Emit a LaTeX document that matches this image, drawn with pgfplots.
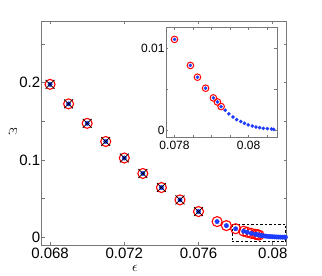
\documentclass[border=0pt]{standalone}
\usepackage{pgfplots}
\pgfplotsset{compat=1.18}
\usepackage{fontspec}
\setmainfont{Liberation Sans}
\definecolor{axgray}{RGB}{120,120,120}
\definecolor{mblue}{RGB}{30,60,255}
\begin{document}
\begin{tikzpicture}
\useasboundingbox (-41.7pt,-31pt) rectangle (280.3pt,245pt);
\begin{axis}[
  at={(0pt,0pt)}, anchor=south west,
  width=245pt, height=224pt, scale only axis,
  xmin=0.06755, xmax=0.08075, ymin=-0.01, ymax=0.28,
  scaled ticks=false,
  xtick={0.068,0.072,0.076,0.08},
  xticklabels={0.068,0.072,0.076,0.08},
  ytick={0,0.05,0.1,0.15,0.2,0.25},
  yticklabels={0,,0.1,,0.2,},
  tick align=inside, major tick length=3pt,
  axis line style={axgray, line width=0.6pt},
  every tick/.style={axgray, line width=0.6pt},
  ticklabel style={font=\fontsize{15}{16}\selectfont, black},
  yticklabel style={xshift=2pt},
  xticklabel style={yshift=1pt},
  xlabel={$\epsilon$},
  ylabel={$\omega$},
  label style={font=\fontsize{14}{16}\selectfont},
  xlabel style={at={(axis description cs:0.381,-0.104)}, anchor=center},
  ylabel style={at={(axis description cs:-0.118,0.506)}, anchor=center, rotate=90},
]
% dashed zoom box
\addplot[black, dashed, line width=0.6pt, dash pattern=on 2.5pt off 2pt] coordinates {(0.0778,-0.0057) (0.0807,-0.0057) (0.0807,0.0173) (0.0778,0.0173) (0.0778,-0.0057)};
% red circles
\addplot[only marks, mark=o, mark size=5pt, red, mark options={line width=1.1pt}] coordinates {
(0.068,0.198) (0.069,0.1727) (0.070,0.1475) (0.071,0.124) (0.072,0.1026) (0.073,0.0826) (0.074,0.0644) (0.075,0.0484) (0.076,0.0333)
(0.077,0.0203) (0.0775,0.0151) (0.078,0.01106) (0.07843,0.00789) (0.07862,0.00646) (0.07884,0.00512) (0.07905,0.00394) (0.07916,0.00345) (0.07926,0.00289)
};
% blue dots
\addplot[only marks, mark=*, mark size=2.2pt, mblue, mark options={draw=mblue, fill=mblue}] coordinates {
(0.068,0.198) (0.069,0.1727) (0.070,0.1475) (0.071,0.124) (0.072,0.1026) (0.073,0.0826) (0.074,0.0644) (0.075,0.0484) (0.076,0.0333)
(0.077,0.0203) (0.0775,0.0151) (0.078,0.01106) (0.07843,0.00789) (0.07862,0.00646) (0.07884,0.00512) (0.07905,0.00394) (0.07916,0.00345) (0.07926,0.00289)
(0.07937,0.00244) (0.07947,0.00199) (0.07958,0.00162) (0.07968,0.00130) (0.07979,0.00106) (0.07989,0.00085) (0.07999,0.00065) (0.0801,0.00052) (0.0802,0.00040) (0.0803,0.00033) (0.0804,0.00024) (0.08051,0.00021) (0.08062,0.00016) (0.08068,0.00012)
};
% black crosses
\addplot[only marks, mark=x, mark size=6.3pt, black, mark options={line width=0.7pt}] coordinates {
(0.068,0.198) (0.069,0.1727) (0.070,0.1475) (0.071,0.124) (0.072,0.1026) (0.073,0.0826) (0.074,0.0644) (0.075,0.0484) (0.076,0.0333)
};
\end{axis}
\begin{axis}[
  at={(124.3pt,107.7pt)}, anchor=south west,
  width=111pt, height=109.6pt, scale only axis,
  axis background/.style={fill=white},
  xmin=0.07777, xmax=0.08077, ymin=-0.00085, ymax=0.01248,
  scaled ticks=false,
  xtick={0.078,0.0785,0.079,0.0795,0.08,0.0805},
  xticklabels={0.078,,,,0.08,},
  ytick={0,0.005,0.01},
  yticklabels={0,,0.01},
  tick align=inside, major tick length=2.5pt,
  axis line style={axgray, line width=0.6pt},
  every tick/.style={axgray, line width=0.6pt},
  ticklabel style={font=\fontsize{12}{14}\selectfont, black},
  yticklabel style={xshift=2pt},
]
\addplot[only marks, mark=o, mark size=3.3pt, red, mark options={line width=1pt}] coordinates {
(0.078,0.01106) (0.07843,0.00789) (0.07862,0.00646) (0.07884,0.00512) (0.07905,0.00394) (0.07916,0.00345) (0.07926,0.00289)
};
\addplot[only marks, mark=*, mark size=1.6pt, mblue, mark options={draw=mblue, fill=mblue}] coordinates {
(0.078,0.01106) (0.07843,0.00789) (0.07862,0.00646) (0.07884,0.00512) (0.07905,0.00394) (0.07916,0.00345) (0.07926,0.00289)
(0.07937,0.00244) (0.07947,0.00199) (0.07958,0.00162) (0.07968,0.00130) (0.07979,0.00106) (0.07989,0.00085) (0.07999,0.00065) (0.0801,0.00052) (0.0802,0.00040) (0.0803,0.00033) (0.0804,0.00024) (0.08051,0.00021) (0.08062,0.00016) (0.08068,0.00012)
};
\end{axis}
\end{tikzpicture}
\end{document}
